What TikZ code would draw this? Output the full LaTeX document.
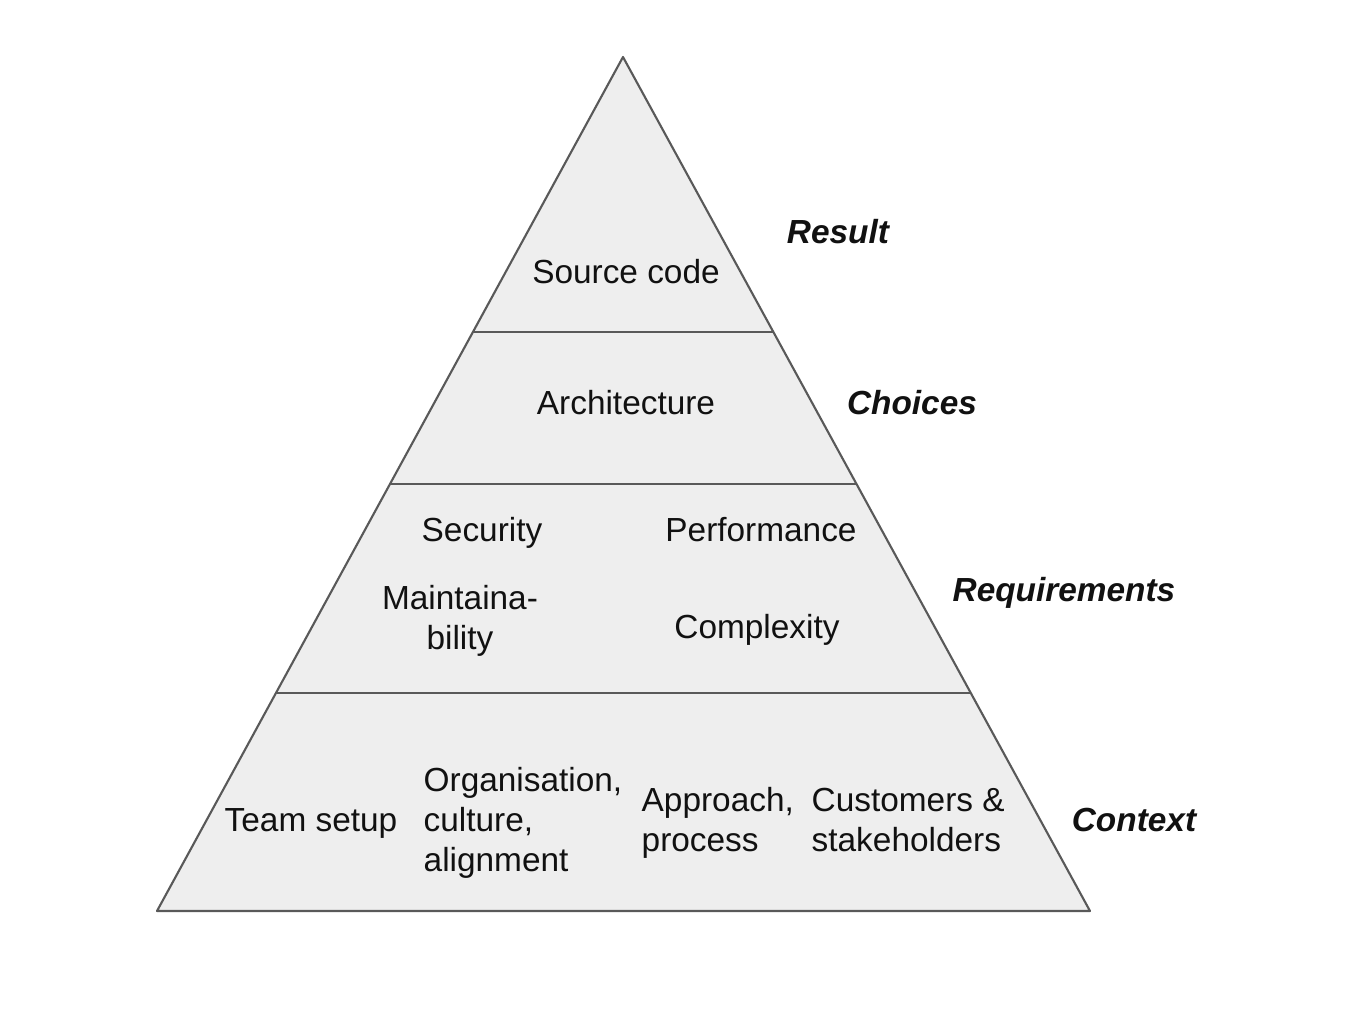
\documentclass[tikz,border=0pt]{standalone}
\usepackage{fontspec}
\setmainfont{Liberation Sans}
\usetikzlibrary{positioning,calc}
\definecolor{Layer}{HTML}{EEEEEE}
\definecolor{Edge}{HTML}{595959}
\definecolor{Ink}{HTML}{111111}

\begin{document}
\begin{tikzpicture}[
  every node/.style={font=\fontsize{9.5}{11.4}\selectfont, text=Ink, inner sep=0pt},
  level/.style={font=\fontsize{9.5}{11.4}\selectfont\bfseries\itshape},
  sep/.style={draw=Edge, line width=0.6pt}
]
\useasboundingbox (0,0) rectangle (13.67,10.24);

% Pyramid outline
\coordinate (apex) at (6.23,9.67);
\coordinate (bl) at (1.57,1.13);
\coordinate (br) at (10.90,1.13);
\filldraw[fill=Layer, draw=Edge, line width=0.6pt, line join=round] (apex) -- (br) -- (bl) -- cycle;

% Layer borders
\coordinate (l1) at ($(apex)!0.322!(bl)$);
\coordinate (r1) at ($(apex)!0.322!(br)$);
\coordinate (l2) at ($(apex)!0.5!(bl)$);
\coordinate (r2) at ($(apex)!0.5!(br)$);
\coordinate (l3) at ($(apex)!0.7447!(bl)$);
\coordinate (r3) at ($(apex)!0.7447!(br)$);
\draw[sep] (l1) -- (r1);
\draw[sep] (l2) -- (r2);
\draw[sep] (l3) -- (r3);

% Top layer
\node (src) at (6.26,7.52) {Source code};

% Choices layer
\node (arch) at (6.26,6.21) {Architecture};

% Requirements layer
\node (sec) at (4.82,4.91) {Security};
\node (perf) at (7.61,4.94) {Performance};
\node[align=center] (maint) at (4.60,4.03) {Maintaina-\\bility};
\node (cplx) at (7.57,3.94) {Complexity};

% Context layer
\node (team) at (3.11,2.01) {Team setup};
\node[align=left, anchor=west] (org) at (4.23,2.01) {Organisation,\\culture,\\alignment};
\node[align=left, anchor=west] (appr) at (6.41,2.01) {Approach,\\process};
\node[align=left, anchor=west] (cust) at (8.11,2.04) {Customers \&\\stakeholders};

% Level labels
\node[level] (result) at (8.38,7.92) {Result};
\node[level] (choices) at (9.12,6.21) {Choices};
\node[level] (reqs) at (10.64,4.31) {Requirements};
\node[level] (context) at (11.34,2.04) {Context};
\end{tikzpicture}
\end{document}
